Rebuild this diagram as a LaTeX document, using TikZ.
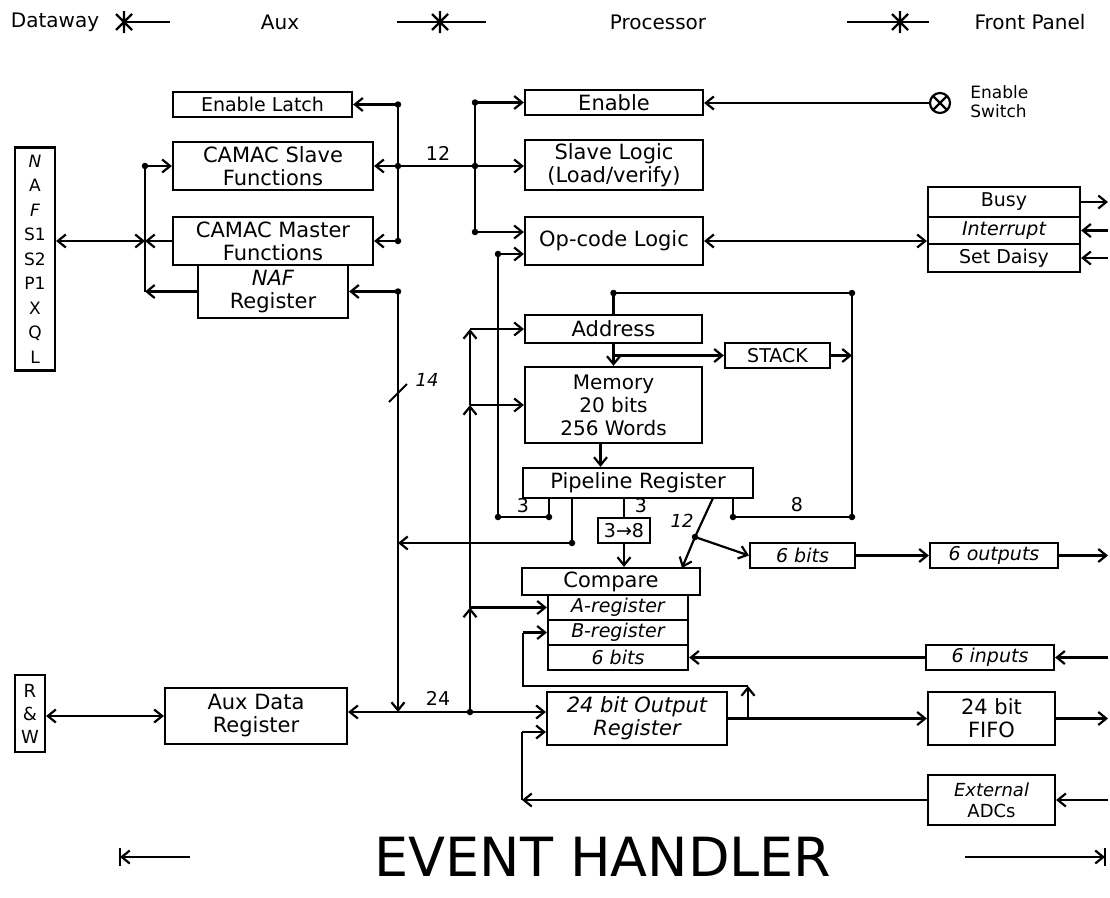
\documentclass[tikz,border=0pt]{standalone}
\usepackage{fontspec}
\setmainfont{DejaVu Sans}
\usetikzlibrary{arrows.meta}

\tikzset{
  box/.style={draw, inner sep=1pt, align=center, font=\fontsize{21}{23}\selectfont},
  sbox/.style={box, font=\fontsize{19}{21}\selectfont},
  hdr/.style={font=\fontsize{20}{22}\selectfont},
  lbl/.style={font=\fontsize{19}{21}\selectfont},
  jdot/.style={circle, fill, inner sep=0pt, minimum size=6.5pt},
  busstar/.pic={\draw (0,-11) -- (0,11) (-8,-8) -- (8,8) (-8,8) -- (8,-8);},
}

\begin{document}
\begin{tikzpicture}[x=1pt, y=-1pt, line width=2.2pt, >={Straight Barb[length=8pt,width=13pt]}]
    \useasboundingbox (0,0) rectangle (1110,897);

    % Header
    \node[hdr] (hdata) at (55,22) {Dataway};
    \coordinate (s1) at (124,22);
    \coordinate (s1b) at (170,22);
    \draw (s1) -- (s1b);
    \pic at (s1) {busstar};
    \node[hdr] (haux) at (280,22) {Aux};
    \coordinate (s2a) at (397,22);
    \coordinate (s2) at (440,22);
    \coordinate (s2b) at (486,22);
    \draw (s2a) -- (s2b);
    \pic at (s2) {busstar};
    \node[hdr] (hproc) at (658,22) {Processor};
    \coordinate (s3a) at (847,22);
    \coordinate (s3) at (900,22);
    \coordinate (s3b) at (929,22);
    \draw (s3a) -- (s3b);
    \pic at (s3) {busstar};
    \node[hdr] (hfront) at (1030,22) {Front Panel};

    % Dataway
    \node[draw, inner sep=0pt, minimum width=40, minimum height=223, align=center,
          font=\fontsize{17}{24.5}\selectfont] (nafbus) at (35,259)
          {\itshape N\\A\\\itshape F\\S1\\S2\\P1\\X\\Q\\L};
    \node[draw, inner sep=0pt, minimum width=30, minimum height=77, align=center,
          font=\fontsize{18}{23}\selectfont] (rw) at (30,713.5) {R\\\&\\W};

    % Aux
    \node[sbox, minimum width=179, minimum height=25] (enlatch) at (262.5,104.5) {Enable Latch};
    \node[box, minimum width=200, minimum height=48] (slavef) at (273,166) {CAMAC Slave\\Functions};
    \node[box, minimum width=200, minimum height=48] (masterf) at (273,241) {CAMAC Master\\Functions};
    \node[box, minimum width=150, minimum height=53] (nafreg) at (273,291.5) {\itshape NAF\\Register};
    \node[box, minimum width=182, minimum height=56] (auxdata) at (256,716) {Aux Data\\Register};

    % Processor
    \node[box, minimum width=178, minimum height=25] (enable) at (614,102.5) {Enable};
    \node[box, minimum width=178, minimum height=50] (slavel) at (614,165) {Slave Logic\\(Load/verify)};
    \node[box, minimum width=178, minimum height=48] (opcode) at (614,241) {Op-code Logic};
    \node[box, minimum width=177, minimum height=28] (address) at (613.5,329) {Address};
    \node[sbox, minimum width=105, minimum height=25] (stack) at (777.5,355.5) {STACK};
    \node[box, minimum width=177, minimum height=76, font=\fontsize{20}{23}\selectfont] (memory) at (613.5,405) {Memory\\20 bits\\256 Words};
    \node[box, minimum width=230, minimum height=30] (pipe) at (638,483) {Pipeline Register};
    \node[sbox, minimum width=52, minimum height=25] (dec38) at (624,530.5) {3→8};
    \node[box, minimum width=178, minimum height=27] (compare) at (611,581.5) {Compare};
    \node[sbox, minimum width=140, minimum height=25] (areg) at (618,607.5) {\itshape A-register};
    \node[sbox, minimum width=140, minimum height=25] (breg) at (618,632.5) {\itshape B-register};
    \node[sbox, minimum width=140, minimum height=25] (sixbits) at (618,657.5) {\itshape 6 bits};
    \node[sbox, minimum width=105, minimum height=25] (bits6) at (802.5,555.5) {\itshape 6 bits};
    \node[box, minimum width=180, minimum height=53] (outreg) at (637,718.5) {\itshape 24 bit Output\\\itshape Register};

    % Front panel
    \node[draw, circle, minimum size=20, inner sep=0pt,
          path picture={\draw (path picture bounding box.north west) -- (path picture bounding box.south east)
                              (path picture bounding box.north east) -- (path picture bounding box.south west);}]
          (sw) at (940,103) {};
    \node[align=left, anchor=west, font=\fontsize{17}{19}\selectfont] (swlbl) at (966,102) {Enable\\Switch};
    \node[sbox, minimum width=152, minimum height=30] (busy) at (1004,202) {Busy};
    \node[sbox, minimum width=152, minimum height=27] (intr) at (1004,230.5) {\itshape Interrupt};
    \node[sbox, minimum width=152, minimum height=28] (daisy) at (1004,258) {Set Daisy};
    \node[sbox, minimum width=128, minimum height=25] (outs6) at (994,555.5) {\itshape 6 outputs};
    \node[sbox, minimum width=128, minimum height=25] (ins6) at (990,657.5) {\itshape 6 inputs};
    \node[box, minimum width=127, minimum height=53] (fifo) at (991.5,718.5) {24 bit\\FIFO};
    \node[box, minimum width=127, minimum height=50, font=\fontsize{18}{21}\selectfont] (extadc) at (991.5,800) {\itshape External\\ADCs};

    % Dataway <-> aux
    \coordinate (lbtop) at (145,166);
    \coordinate (lbmid) at (145,241);
    \coordinate (lbbot) at (145,291.5);
    \draw (lbtop) -- (lbbot);
    \node[jdot] (d1) at (lbtop) {};
    \draw[->] (lbtop) -- (slavef.west);
    \draw[->] (masterf.west) -- (lbmid);
    \draw[<->] (nafbus.east |- lbmid) -- (lbmid);
    \draw[->] (nafreg.west) -- (lbbot);
    \draw[<->] (rw.east |- auxdata.west) -- (auxdata.west);

    % 12 bit bus
    \coordinate (avtop) at (398,104.5);
    \coordinate (avmid) at (398,166);
    \coordinate (avbot) at (398,241);
    \coordinate (pbtop) at (475,102.5);
    \coordinate (pbmid) at (475,166);
    \coordinate (pbbot) at (475,232);
    \draw (avtop) -- (avbot);
    \draw (pbtop) -- (pbbot);
    \draw[->] (avtop) -- (enlatch.east);
    \draw[->] (avbot) -- (masterf.east);
    \draw[->] (pbmid) -- (slavef.east);
    \draw[->] (pbtop) -- (enable.west);
    \draw[->] (pbmid) -- (pbmid -| slavel.west);
    \draw[->] (pbbot) -- (pbbot -| opcode.west);
    \foreach \p in {avtop,avmid,avbot,pbtop,pbmid,pbbot}
        \node[jdot] at (\p) {};
    \node[lbl] (l12a) at (438,153) {12};

    % Front panel links
    \draw[->] (sw.west) -- (sw.west -| enable.east);
    \draw[<->] (opcode.east) -- (opcode.east -| intr.west);
    \coordinate (busyout) at (1108,202);
    \coordinate (intrin) at (1108,230.5);
    \coordinate (daisyin) at (1108,258);
    \draw[->] (busy.east) -- (busyout);
    \draw[->] (intrin) -- (intr.east);
    \draw[->] (daisyin) -- (daisy.east);

    % Address / stack loop
    \coordinate (abr) at (613.5,355.5);
    \coordinate (lptl) at (613.5,293);
    \coordinate (lptr) at (852,293);
    \coordinate (lpbr) at (852,517);
    \coordinate (br8) at (733,517);
    \draw[->] (address.south) -- (memory.north);
    \draw[->] (abr) -- (stack.west);
    \draw[->] (stack.east) -- (stack.east -| lptr);
    \draw (address.north) -- (lptl) -- (lptr) -- (lpbr) -- (br8) -- (br8 |- pipe.south);
    \draw[->] ([xshift=-13pt]memory.south) -- ([xshift=-13pt]memory.south |- pipe.north);
    \foreach \p in {lptl,lptr,lpbr,br8}
        \node[jdot] at (\p) {};
    \node[lbl] (l8) at (797,505) {8};

    % 3 bits back to op-code
    \coordinate (oc2) at (498,254);
    \coordinate (br3l) at (498,517);
    \coordinate (br3r) at (549,517);
    \draw (br3r |- pipe.south) -- (br3r) -- (br3l) -- (oc2);
    \draw[->] (oc2) -- (oc2 -| opcode.west);
    \foreach \p in {oc2,br3l,br3r}
        \node[jdot] at (\p) {};
    \node[lbl] (l3a) at (523,506) {3};

    % decoder and compare
    \draw (dec38.north |- pipe.south) -- (dec38.north);
    \node[lbl] (l3b) at (641,506) {3};
    \draw[->] (dec38.south) -- (dec38.south |- compare.north);
    \coordinate (p12) at (713,498);
    \coordinate (j12) at (695,537);
    \coordinate (c12) at (682,568);
    \draw (p12) -- (j12);
    \draw[->] (j12) -- (c12);
    \draw[->] (j12) -- (bits6.west);
    \node[jdot] (d12) at (j12) {};
    \node[lbl, font=\fontsize{18}{20}\selectfont\itshape] (l12b) at (682,521) {12};
    \draw[->] (bits6.east) -- (outs6.west);
    \coordinate (outs6out) at (1108,555.5);
    \draw[->] (outs6.east) -- (outs6out);

    % pipeline to NAF register line
    \coordinate (pl) at (572,543);
    \coordinate (nj) at (398,291.5);
    \coordinate (bj) at (470,712);
    \draw (pl |- pipe.south) -- (pl);
    \draw[->] (pl) -- (pl -| nj);
    \node[jdot] (dpl) at (pl) {};
    \draw[->] (nj) -- (nafreg.east);
    \draw[->] (nj) -- (nj |- bj);
    \node[jdot] (dnj) at (nj) {};
    \coordinate (t1) at (389,402);
    \coordinate (t2) at (407,384);
    \draw[line width=1.8pt] (t1) -- (t2);
    \node[lbl, font=\fontsize{18}{20}\selectfont\itshape] (l14) at (427,380) {14};

    % 24 bit aux data bus
    \draw[<->] (auxdata.east |- bj) -- (outreg.west |- bj);
    \node[jdot] (dbj) at (bj) {};
    \node[lbl] (l24) at (438,698) {24};
    \coordinate (vA) at (470,329);
    \coordinate (vM) at (470,405);
    \coordinate (vR) at (470,607.5);
    \draw[->] (bj) -- (vR);
    \draw[->] (vR) -- (vM);
    \draw[->] (vM) -- (vA);
    \draw[->] (vA) -- (address.west);
    \draw[->] (vM) -- (memory.west);
    \draw[->] (vR) -- (areg.west);

    % output register, FIFO, inputs
    \coordinate (tap) at (748,718.5);
    \coordinate (tapt) at (748,686);
    \coordinate (bl2) at (523,686);
    \coordinate (bl3) at (523,632.5);
    \draw[->] (outreg.east) -- (fifo.west);
    \draw[->] (tap) -- (tapt);
    \draw (tapt) -- (bl2) -- (bl3);
    \draw[->] (bl3) -- (breg.west);
    \coordinate (fifoout) at (1108,718.5);
    \draw[->] (fifo.east) -- (fifoout);
    \coordinate (ins6in) at (1108,657.5);
    \draw[->] (ins6in) -- (ins6.east);
    \draw[->] (ins6.west) -- (sixbits.east);
    \coordinate (ea) at (522,800);
    \coordinate (eb) at (522,732);
    \draw[->] (extadc.west) -- (ea);
    \draw (ea) -- (eb);
    \draw[->] (eb) -- (eb -| outreg.west);
    \coordinate (adcin) at (1108,800);
    \draw[->] (adcin) -- (extadc.east);

    % Title
    \node[font=\fontsize{54}{60}\selectfont] (title) at (603,857) {EVENT HANDLER};
    \coordinate (tl) at (120,857);
    \coordinate (tlx) at (190,857);
    \coordinate (tr) at (1105,857);
    \coordinate (trx) at (965,857);
    \draw[->] (tlx) -- (tl);
    \draw ([yshift=-9pt]tl) -- ([yshift=9pt]tl);
    \draw[->] (trx) -- (tr);
    \draw ([yshift=-9pt]tr) -- ([yshift=9pt]tr);
\end{tikzpicture}
\end{document}
